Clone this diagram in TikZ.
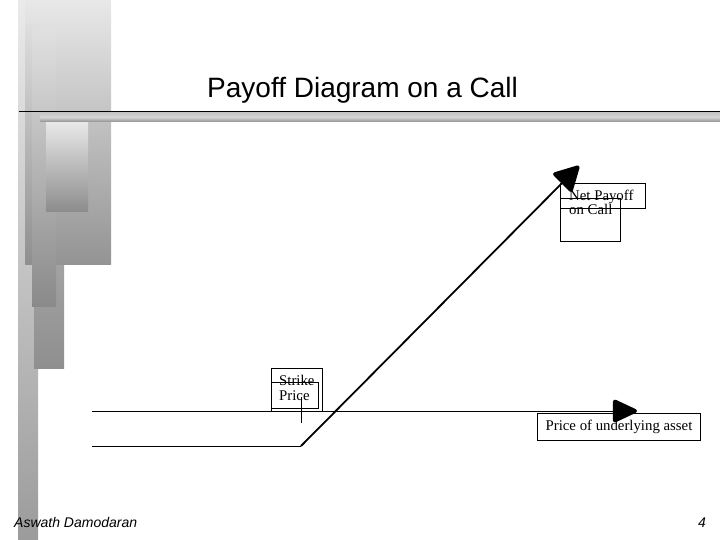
\documentclass[tikz,border=0pt]{standalone}
\usepackage{fontspec}
\setmainfont{Liberation Serif}
\newfontfamily\headfont{Liberation Sans}
\usetikzlibrary{arrows.meta}

\begin{document}
\begin{tikzpicture}[x = 1pt, y = -1pt, > = Triangle,
    boxtext/.style = {font = \fontsize{14.8}{14.5}\selectfont, anchor = west, inner sep = 0pt, align = left},
    bigtip/.style = {-{Triangle[length=27pt,width=#1,line width=4pt,round,fill=black]}}]
    \useasboundingbox (0,0) rectangle (720,540);
    % backdrop
    \shade [top color = black!8, bottom color = black!39] (18,0) rectangle (38,540);
    \shade [top color = black!18, bottom color = black!44] (34,20) rectangle (64,368);
    \shade [top color = black!9, bottom color = black!42] (25,0) rectangle (111,264);
    \shade [top color = black!13, bottom color = black!44] (25,25) rectangle (32,264);
    \shade [top color = black!12, bottom color = black!46] (32,30) rectangle (56,306);
    \shade [top color = black!9, bottom color = black!45] (46,122) rectangle (88,212);
    \shade [top color = black!24, bottom color = black!44, middle color = black!16] (40,112) rectangle (720,122);
    \draw [line width = 0.8pt] (19,111) -- (720,111);
    \node (title) [font = \headfont\fontsize{28}{30}\selectfont, anchor = base west, inner sep = 0pt] at (207,98) {Payoff Diagram on a Call};
    % axis and payoff
    \coordinate (axisL) at (92,411);
    \coordinate (axisR) at (637,411);
    \coordinate (flatL) at (92,446);
    \coordinate (kink) at (301,446);
    \coordinate (payoffR) at (579,166);
    \coordinate (tickT) at (301,397);
    \coordinate (tickB) at (301,423);
    \draw [bigtip=24pt, line width = 0.8pt] (axisL) -- (axisR);
    \draw [line width = 0.8pt] (flatL) -- (kink);
    \draw [bigtip=28pt, line width = 1.8pt] (kink) -- (payoffR);
    \draw [line width = 0.6pt] (tickT) -- (tickB);
    % label boxes
    \draw [line width = 0.6pt] (560,183) rectangle (645.5,208.5);
    \draw [line width = 0.6pt] (560,198) rectangle (620,241);
    \draw [line width = 0.6pt] (271,368) rectangle (322.5,411);
    \draw [line width = 0.6pt] (271,382.5) rectangle (318,408.5);
    \node (netlabel) [boxtext] at (569,202.5) {Net Payoff\\on Call};
    \node (strikelabel) [boxtext] at (279,388) {Strike\\Price};
    \node (pricelabel) [draw, line width = 0.6pt, minimum width = 163.5pt, minimum height = 26.5pt, inner sep = 0pt, font = \fontsize{14.8}{14.5}\selectfont] at (619,426.7) {Price of underlying asset};
    % footer
    \node (author) [font = \headfont\itshape\fontsize{14}{15}\selectfont, anchor = base west, inner sep = 0pt] at (14,527) {Aswath Damodaran};
    \node (pagenum) [font = \headfont\itshape\fontsize{14}{15}\selectfont, anchor = base east, inner sep = 0pt] at (706,527) {4};
\end{tikzpicture}
\end{document}
